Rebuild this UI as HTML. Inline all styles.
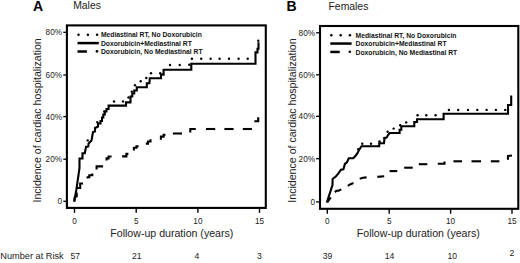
<!DOCTYPE html>
<html><head><meta charset="utf-8"><style>
html,body{margin:0;padding:0;background:#fff;width:520px;height:263px;overflow:hidden}
svg{display:block}
text{font-family:"Liberation Sans", sans-serif;fill:#1a1a1a}
.tk{font-size:8.2px;fill:#222}
.ax{font-size:10.6px;fill:#222}
.pl{font-size:14px;font-weight:bold;fill:#000}
.tt{font-size:10.4px;fill:#222}
.lg{font-size:6.75px;font-weight:bold;fill:#111}
.nr{font-size:8.6px;fill:#222}
</style></head><body>
<svg width="520" height="263" viewBox="0 0 520 263">
<rect x="66.9" y="25.4" width="198.9" height="182.5" fill="none" stroke="#000" stroke-width="2.1"/>
<rect x="320" y="26" width="198.3" height="182.8" fill="none" stroke="#000" stroke-width="2.1"/>
<line x1="63.3" y1="32.3" x2="66.5" y2="32.3" stroke="#000" stroke-width="1.3"/>
<text x="62" y="35.3" text-anchor="end" class="tk">80%</text>
<line x1="63.3" y1="75" x2="66.5" y2="75" stroke="#000" stroke-width="1.3"/>
<text x="62" y="78.0" text-anchor="end" class="tk">60%</text>
<line x1="63.3" y1="116.6" x2="66.5" y2="116.6" stroke="#000" stroke-width="1.3"/>
<text x="62" y="119.6" text-anchor="end" class="tk">40%</text>
<line x1="63.3" y1="159.2" x2="66.5" y2="159.2" stroke="#000" stroke-width="1.3"/>
<text x="62" y="162.2" text-anchor="end" class="tk">20%</text>
<line x1="63.3" y1="201.3" x2="66.5" y2="201.3" stroke="#000" stroke-width="1.3"/>
<text x="62" y="204.3" text-anchor="end" class="tk">0</text>
<line x1="316.1" y1="32.8" x2="319.3" y2="32.8" stroke="#000" stroke-width="1.3"/>
<text x="315" y="35.8" text-anchor="end" class="tk">80%</text>
<line x1="316.1" y1="74.8" x2="319.3" y2="74.8" stroke="#000" stroke-width="1.3"/>
<text x="315" y="77.8" text-anchor="end" class="tk">60%</text>
<line x1="316.1" y1="116.3" x2="319.3" y2="116.3" stroke="#000" stroke-width="1.3"/>
<text x="315" y="119.3" text-anchor="end" class="tk">40%</text>
<line x1="316.1" y1="158.7" x2="319.3" y2="158.7" stroke="#000" stroke-width="1.3"/>
<text x="315" y="161.7" text-anchor="end" class="tk">20%</text>
<line x1="316.1" y1="201.9" x2="319.3" y2="201.9" stroke="#000" stroke-width="1.3"/>
<text x="315" y="204.9" text-anchor="end" class="tk">0</text>
<line x1="74.5" y1="208.3" x2="74.5" y2="212.8" stroke="#000" stroke-width="1.4"/>
<text x="74.5" y="223.5" text-anchor="middle" class="tk">0</text>
<line x1="136.2" y1="208.3" x2="136.2" y2="212.8" stroke="#000" stroke-width="1.4"/>
<text x="136.2" y="223.5" text-anchor="middle" class="tk">5</text>
<line x1="197.9" y1="208.3" x2="197.9" y2="212.8" stroke="#000" stroke-width="1.4"/>
<text x="197.9" y="223.5" text-anchor="middle" class="tk">10</text>
<line x1="259.5" y1="208.3" x2="259.5" y2="212.8" stroke="#000" stroke-width="1.4"/>
<text x="259.5" y="223.5" text-anchor="middle" class="tk">15</text>
<line x1="327.3" y1="209.2" x2="327.3" y2="213.7" stroke="#000" stroke-width="1.4"/>
<text x="327.3" y="223.5" text-anchor="middle" class="tk">0</text>
<line x1="389.2" y1="209.2" x2="389.2" y2="213.7" stroke="#000" stroke-width="1.4"/>
<text x="389.2" y="223.5" text-anchor="middle" class="tk">5</text>
<line x1="450.6" y1="209.2" x2="450.6" y2="213.7" stroke="#000" stroke-width="1.4"/>
<text x="450.6" y="223.5" text-anchor="middle" class="tk">10</text>
<line x1="512" y1="209.2" x2="512" y2="213.7" stroke="#000" stroke-width="1.4"/>
<text x="512" y="223.5" text-anchor="middle" class="tk">15</text>
<text x="171.8" y="236.8" text-anchor="middle" class="ax">Follow-up duration (years)</text>
<text x="418.3" y="236.8" text-anchor="middle" class="ax">Follow-up duration (years)</text>
<text transform="translate(41.2,120.4) rotate(-90)" text-anchor="middle" class="ax">Incidence of cardiac hospitalization</text>
<text transform="translate(296.1,120.5) rotate(-90)" text-anchor="middle" class="ax">Incidence of cardiac hospitalization</text>
<text x="33.1" y="10.8" class="pl">A</text>
<text x="286.6" y="10.8" class="pl">B</text>
<text x="73.2" y="9.2" class="tt">Males</text>
<text x="328.5" y="9.9" class="tt">Females</text>
<circle cx="78.5" cy="34.75" r="1.25" fill="#000"/>
<circle cx="87.9" cy="34.75" r="1.25" fill="#000"/>
<circle cx="97.1" cy="34.75" r="1.25" fill="#000"/>
<line x1="77.5" y1="43.1" x2="98.8" y2="43.1" stroke="#000" stroke-width="2.5"/>
<line x1="77.5" y1="51.5" x2="86.9" y2="51.5" stroke="#000" stroke-width="2.5"/>
<circle cx="97.0" cy="51.35" r="1.3" fill="#000"/>
<text x="100.9" y="37.25" class="lg">Mediastinal RT, No Doxorubicin</text>
<text x="100.9" y="45.65" class="lg">Doxorubicin+Mediastinal RT</text>
<text x="100.9" y="54.05" class="lg">Doxorubicin, No Mediastinal RT</text>
<circle cx="331.3" cy="35.2" r="1.25" fill="#000"/>
<circle cx="340.7" cy="35.2" r="1.25" fill="#000"/>
<circle cx="349.90000000000003" cy="35.2" r="1.25" fill="#000"/>
<line x1="330.3" y1="43.550000000000004" x2="351.6" y2="43.550000000000004" stroke="#000" stroke-width="2.5"/>
<line x1="330.3" y1="51.95" x2="339.7" y2="51.95" stroke="#000" stroke-width="2.5"/>
<circle cx="349.8" cy="51.800000000000004" r="1.3" fill="#000"/>
<text x="355.6" y="37.7" class="lg">Mediastinal RT, No Doxorubicin</text>
<text x="355.6" y="46.1" class="lg">Doxorubicin+Mediastinal RT</text>
<text x="355.6" y="54.5" class="lg">Doxorubicin, No Mediastinal RT</text>
<polyline points="74.2,201.8 76.3,190.0 78.0,178.5 79.5,168.0 79.5,158.5 82.5,158.5 82.5,153.2 84.8,153.2 86.0,147.0 88.3,146.5 88.6,143.5 91.5,140.5 93.0,132.0 95.0,131.5 95.0,128.0 98.0,126.5 98.0,123.5 100.5,123.5 100.5,121.0 102.0,121.0 102.0,117.5 103.3,117.5 103.3,114.5 104.8,114.5 104.8,111.5 106.5,111.5 106.5,109.0 108.6,109.0 108.6,105.6 126.0,105.6 126.0,102.4 130.5,102.4 130.5,96.5 132.3,96.5 132.3,93.5 134.2,93.5 134.2,90.5 136.8,90.5 136.8,87.2 146.8,87.2 146.8,83.2 149.4,83.2 149.8,78.2 161.0,78.2 161.0,74.6 163.6,74.6 163.6,69.7 191.3,69.7 191.3,63.8 255.5,63.8 255.5,52.4 257.5,52.4 257.5,48.8 258.5,48.8 258.5,42.3" fill="none" stroke="#000" stroke-width="2.1" stroke-linejoin="miter" stroke-linecap="butt"/>
<polyline points="74.3,201.5 74.8,197.0 76.7,196.5 76.7,192.5" fill="none" stroke="#000" stroke-width="2.1" stroke-linecap="butt"/>
<polyline points="76.5,188.0 80.2,188.0 80.2,183.5 83.0,183.5" fill="none" stroke="#000" stroke-width="2.1" stroke-linecap="butt"/>
<polyline points="87.6,178.6 87.6,177.2 89.3,177.2 89.3,175.2 92.3,175.2 92.3,173.6" fill="none" stroke="#000" stroke-width="2.1" stroke-linecap="butt"/>
<polyline points="96.6,169.6 96.6,166.4 103.1,166.4" fill="none" stroke="#000" stroke-width="2.1" stroke-linecap="butt"/>
<polyline points="106.6,160.6 106.6,158.4 108.6,158.4 108.6,156.5 111.6,156.5" fill="none" stroke="#000" stroke-width="2.1" stroke-linecap="butt"/>
<polyline points="122.1,156.4 126.4,156.4 126.4,153.9 128.4,153.9" fill="none" stroke="#000" stroke-width="2.1" stroke-linecap="butt"/>
<polyline points="133.9,150.4 133.9,147.7 136.5,147.7 136.5,146.2 138.6,146.2" fill="none" stroke="#000" stroke-width="2.1" stroke-linecap="butt"/>
<polyline points="145.8,143.6 148.0,143.6 148.0,141.5 150.5,141.5 150.5,139.2" fill="none" stroke="#000" stroke-width="2.1" stroke-linecap="butt"/>
<polyline points="160.9,139.8 160.9,136.6 163.6,136.6 163.6,134.9 165.4,134.9" fill="none" stroke="#000" stroke-width="2.1" stroke-linecap="butt"/>
<polyline points="172.9,133.5 182.0,133.5" fill="none" stroke="#000" stroke-width="2.1" stroke-linecap="butt"/>
<polyline points="190.3,132.6 190.3,129.0 195.8,129.0" fill="none" stroke="#000" stroke-width="2.1" stroke-linecap="butt"/>
<polyline points="206.0,129.0 215.2,129.0" fill="none" stroke="#000" stroke-width="2.1" stroke-linecap="butt"/>
<polyline points="224.4,129.0 233.6,129.0" fill="none" stroke="#000" stroke-width="2.1" stroke-linecap="butt"/>
<polyline points="242.8,129.0 251.9,129.0" fill="none" stroke="#000" stroke-width="2.1" stroke-linecap="butt"/>
<polyline points="254.3,121.3 258.2,121.3 258.2,117.2" fill="none" stroke="#000" stroke-width="2.1" stroke-linecap="butt"/>
<circle cx="87.7" cy="140.4" r="1.2" fill="#000"/>
<circle cx="97.3" cy="122.3" r="1.2" fill="#000"/>
<circle cx="104.3" cy="111.5" r="1.2" fill="#000"/>
<circle cx="114" cy="101.5" r="1.2" fill="#000"/>
<circle cx="123" cy="101.5" r="1.2" fill="#000"/>
<circle cx="128.5" cy="97.5" r="1.2" fill="#000"/>
<circle cx="131.8" cy="91.7" r="1.2" fill="#000"/>
<circle cx="135" cy="85.3" r="1.2" fill="#000"/>
<circle cx="140.7" cy="81.3" r="1.2" fill="#000"/>
<circle cx="146.3" cy="78" r="1.2" fill="#000"/>
<circle cx="151" cy="73.3" r="1.2" fill="#000"/>
<circle cx="160.2" cy="73.3" r="1.2" fill="#000"/>
<circle cx="170" cy="65" r="1.2" fill="#000"/>
<circle cx="179.7" cy="65" r="1.2" fill="#000"/>
<circle cx="189.3" cy="64.7" r="1.2" fill="#000"/>
<circle cx="191.9" cy="58.7" r="1.2" fill="#000"/>
<circle cx="201.2" cy="58.7" r="1.2" fill="#000"/>
<circle cx="210.6" cy="58.7" r="1.2" fill="#000"/>
<circle cx="219.6" cy="58.7" r="1.2" fill="#000"/>
<circle cx="229" cy="58.7" r="1.2" fill="#000"/>
<circle cx="238.6" cy="58.7" r="1.2" fill="#000"/>
<circle cx="247.7" cy="58.7" r="1.2" fill="#000"/>
<circle cx="258.3" cy="40.8" r="1.2" fill="#000"/>
<polyline points="326.8,202.5 332.5,185.0 332.6,179.0 336.0,176.3 338.4,173.3 340.9,169.8 343.4,169.3 344.9,163.9 346.9,162.4 348.8,158.3 353.3,158.1 355.8,155.5 357.3,153.5 358.5,151.0 360.0,148.5 361.5,146.2 379.2,146.2 379.2,143.2 384.0,143.2 384.5,138.5 386.9,137.3 388.0,135.0 389.8,133.0 399.6,133.0 399.6,129.8 401.3,129.8 401.3,126.2 414.3,126.2 414.3,122.0 417.0,122.0 417.0,119.2 443.6,119.2 443.6,113.8 508.0,113.8 508.0,105.0 511.2,105.0 511.2,95.6" fill="none" stroke="#000" stroke-width="2.1" stroke-linejoin="miter" stroke-linecap="butt"/>
<polyline points="327.2,202.5 330.8,197.3" fill="none" stroke="#000" stroke-width="2.1" stroke-linecap="butt"/>
<polyline points="334.9,192.3 336.4,190.8 338.6,190.7 341.3,189.4" fill="none" stroke="#000" stroke-width="2.1" stroke-linecap="butt"/>
<polyline points="347.8,185.8 350.5,184.2 353.5,183.0" fill="none" stroke="#000" stroke-width="2.1" stroke-linecap="butt"/>
<polyline points="359.7,178.7 363.0,177.8 366.6,177.4" fill="none" stroke="#000" stroke-width="2.1" stroke-linecap="butt"/>
<polyline points="377.3,176.9 384.2,176.2" fill="none" stroke="#000" stroke-width="2.1" stroke-linecap="butt"/>
<polyline points="389.6,171.1 397.3,171.1" fill="none" stroke="#000" stroke-width="2.1" stroke-linecap="butt"/>
<polyline points="404.2,167.7 412.7,167.7" fill="none" stroke="#000" stroke-width="2.1" stroke-linecap="butt"/>
<polyline points="418.8,164.2 427.3,164.2" fill="none" stroke="#000" stroke-width="2.1" stroke-linecap="butt"/>
<polyline points="437.8,163.7 444.5,163.7 444.5,161.6" fill="none" stroke="#000" stroke-width="2.1" stroke-linecap="butt"/>
<polyline points="453.4,161.3 462.0,161.3" fill="none" stroke="#000" stroke-width="2.1" stroke-linecap="butt"/>
<polyline points="471.5,161.3 481.0,161.3" fill="none" stroke="#000" stroke-width="2.1" stroke-linecap="butt"/>
<polyline points="490.8,161.3 499.4,161.3" fill="none" stroke="#000" stroke-width="2.1" stroke-linecap="butt"/>
<polyline points="508.0,159.7 508.0,156.0 512.0,155.5" fill="none" stroke="#000" stroke-width="2.1" stroke-linecap="butt"/>
<circle cx="358.2" cy="149.1" r="1.2" fill="#000"/>
<circle cx="362.3" cy="143.7" r="1.2" fill="#000"/>
<circle cx="371" cy="143.7" r="1.2" fill="#000"/>
<circle cx="379.5" cy="141.5" r="1.2" fill="#000"/>
<circle cx="384.3" cy="138" r="1.2" fill="#000"/>
<circle cx="387.6" cy="131.7" r="1.2" fill="#000"/>
<circle cx="393.6" cy="128.6" r="1.2" fill="#000"/>
<circle cx="400.2" cy="125.3" r="1.2" fill="#000"/>
<circle cx="406.2" cy="122.4" r="1.2" fill="#000"/>
<circle cx="417.6" cy="115.3" r="1.2" fill="#000"/>
<circle cx="426.3" cy="115.3" r="1.2" fill="#000"/>
<circle cx="435.6" cy="115.3" r="1.2" fill="#000"/>
<circle cx="448.9" cy="110" r="1.2" fill="#000"/>
<circle cx="458.2" cy="110" r="1.2" fill="#000"/>
<circle cx="468" cy="109.9" r="1.2" fill="#000"/>
<circle cx="477.3" cy="109.9" r="1.2" fill="#000"/>
<circle cx="486.6" cy="109.9" r="1.2" fill="#000"/>
<circle cx="495.9" cy="109.9" r="1.2" fill="#000"/>
<circle cx="505.2" cy="109.9" r="1.2" fill="#000"/>
<text x="0.3" y="258.6" class="nr" style="font-size:9.2px">Number at Risk</text>
<text x="75.2" y="258.9" text-anchor="middle" class="nr">57</text>
<text x="136.7" y="258.9" text-anchor="middle" class="nr">21</text>
<text x="197" y="258.9" text-anchor="middle" class="nr">4</text>
<text x="259.3" y="258.9" text-anchor="middle" class="nr">3</text>
<text x="327.5" y="258.9" text-anchor="middle" class="nr">39</text>
<text x="389.6" y="258.9" text-anchor="middle" class="nr">14</text>
<text x="452.2" y="258.9" text-anchor="middle" class="nr">10</text>
<text x="512" y="256.3" text-anchor="middle" class="nr">2</text>
</svg>
</body></html>
